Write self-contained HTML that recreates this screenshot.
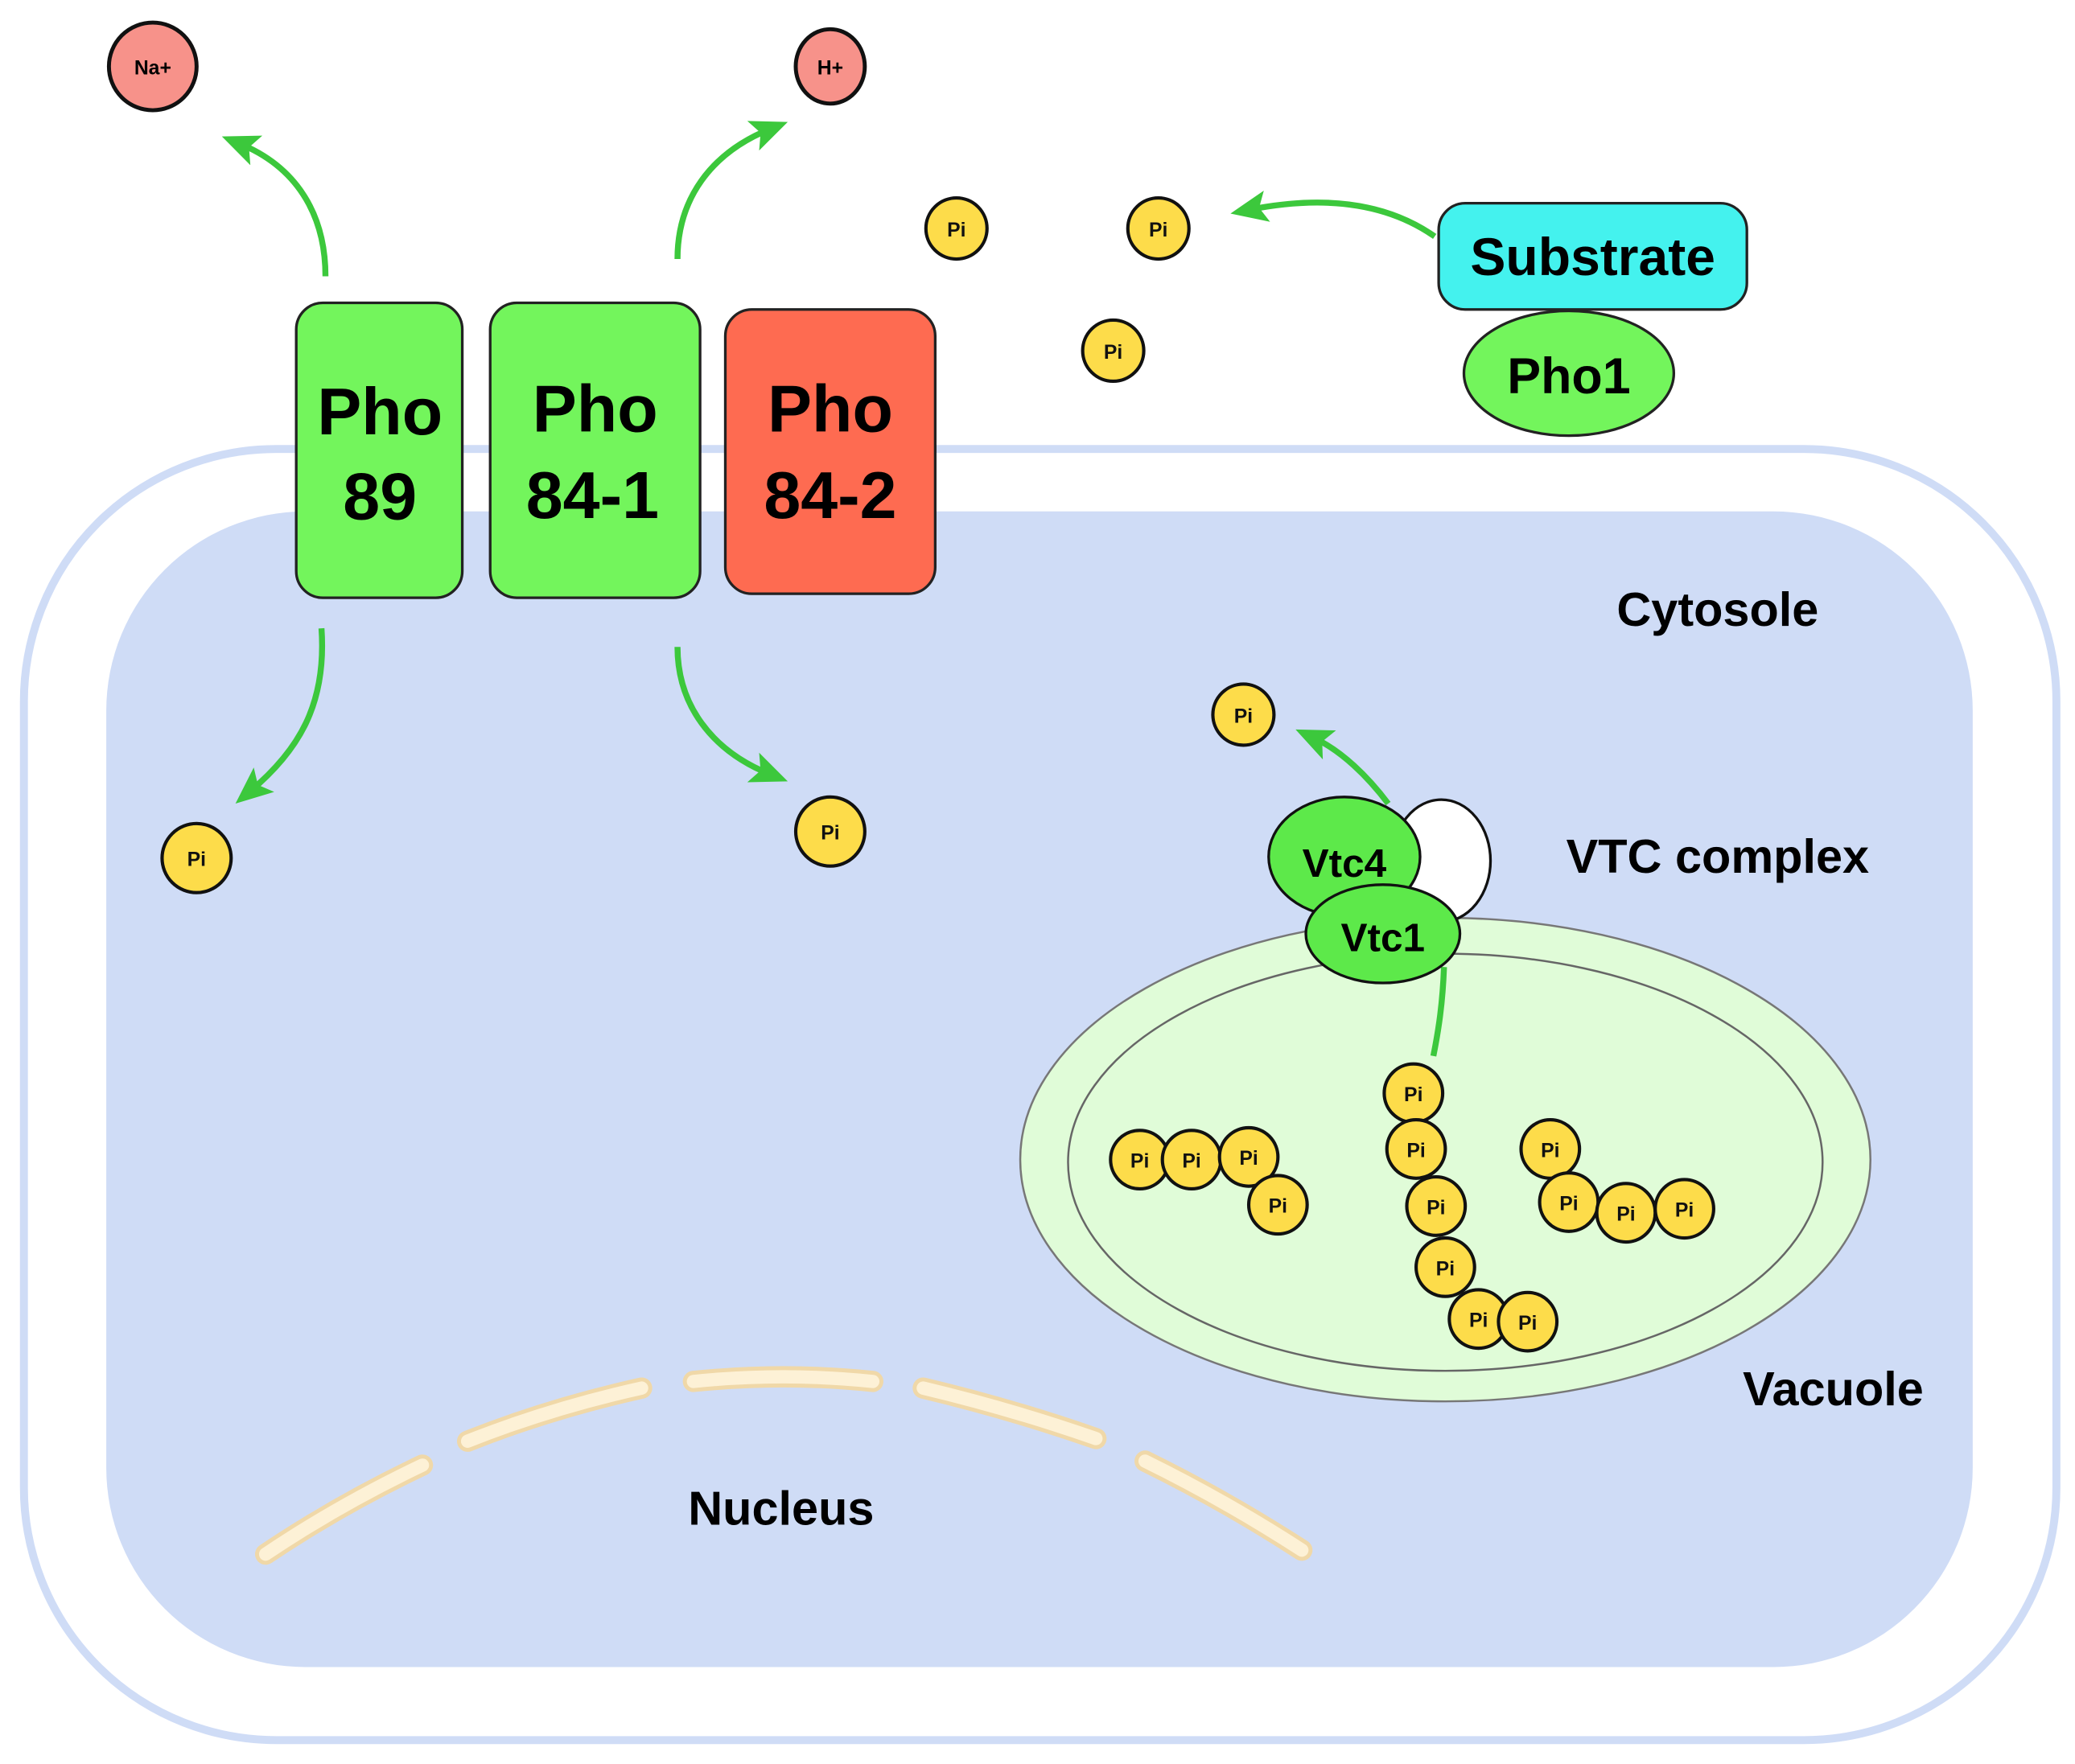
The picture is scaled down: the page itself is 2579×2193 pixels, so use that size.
<!DOCTYPE html>
<html><head><style>html,body{margin:0;padding:0;background:#fff}svg{display:block}text{font-family:"Liberation Sans",sans-serif;font-weight:bold;text-anchor:middle}</style></head>
<body>
<svg width="2579" height="2193" viewBox="0 0 1562 1328" preserveAspectRatio="none" xmlns="http://www.w3.org/2000/svg">
<defs>
<marker id="ah" markerWidth="8" markerHeight="8" refX="5" refY="4" orient="auto" markerUnits="userSpaceOnUse" viewBox="0 0 8 8"><path d="M0,0 L8,4 L0,8 L2,4 Z" fill="#3cc83c"/></marker>
<marker id="a" markerWidth="28" markerHeight="28" refX="14" refY="14" orient="auto" markerUnits="userSpaceOnUse"><path d="M0,2 L28,14 L0,26 L6,14 Z" fill="#3cc83c"/></marker>
</defs>
<rect x="18" y="338" width="1530" height="972" rx="190" fill="#fff" stroke="#cfdcf6" stroke-width="6"/>
<rect x="80" y="385" width="1405" height="870" rx="150" fill="#cfdcf6"/>
<!-- arrows -->
<g fill="none" stroke="#3cc83c" stroke-width="4.5">
<path d="M245,208 C245,160 222,125 180,108" marker-end="url(#a)"/>
<path d="M510,195 C510,150 535,115 580,97" marker-end="url(#a)"/>
<path d="M1080,178 C1040,150 990,148 940,158" marker-end="url(#a)"/>
<path d="M242,473 C246,530 225,565 188,596" marker-end="url(#a)"/>
<path d="M510,487 C510,530 535,565 580,583" marker-end="url(#a)"/>
<path d="M1045,605 C1030,585 1010,565 988,555" marker-end="url(#a)"/>
</g>
<circle cx="115" cy="50" r="33" fill="#f7928a" stroke="#111" stroke-width="3"/>
<text x="115" y="56" font-size="15">Na+</text>
<ellipse cx="625" cy="50" rx="26" ry="28" fill="#f7928a" stroke="#111" stroke-width="3"/>
<text x="625" y="56" font-size="15">H+</text>
<!-- transporters -->
<rect x="223" y="228" width="125" height="222" rx="20" fill="#73f55c" stroke="#222" stroke-width="2"/>
<rect x="369" y="228" width="158" height="222" rx="20" fill="#73f55c" stroke="#222" stroke-width="2"/>
<rect x="546" y="233" width="158" height="214" rx="20" fill="#fe6b51" stroke="#222" stroke-width="2"/>
<g font-size="50">
<text x="286" y="327">Pho</text><text x="286" y="391">89</text>
<text x="448" y="325">Pho</text><text x="446" y="390">84-1</text>
<text x="625" y="325">Pho</text><text x="625" y="390">84-2</text>
</g>
<!-- substrate -->
<rect x="1083" y="153" width="232" height="80" rx="20" fill="#44f2ee" stroke="#222" stroke-width="2"/>
<text x="1199" y="207" font-size="40">Substrate</text>
<ellipse cx="1181" cy="281" rx="79" ry="47" fill="#73f55c" stroke="#222" stroke-width="2"/>
<text x="1181" y="296" font-size="38">Pho1</text>
<!-- labels -->
<text x="1293" y="471" font-size="36">Cytosole</text>
<text x="1293" y="657" font-size="36">VTC complex</text>
<text x="1380" y="1058" font-size="36">Vacuole</text>
<text x="588" y="1148" font-size="36">Nucleus</text>
<!-- vacuole -->
<ellipse cx="1088" cy="873" rx="320" ry="182" fill="#e0fcd8" stroke="#777" stroke-width="1.5"/>
<ellipse cx="1088" cy="875" rx="284" ry="157" fill="none" stroke="#666" stroke-width="1.5"/>
<path d="M1087,728 C1086,755 1083,775 1079,795" fill="none" stroke="#3cc83c" stroke-width="4.5"/>
<ellipse cx="1085" cy="648" rx="37" ry="46" fill="#fff" stroke="#111" stroke-width="2"/>
<ellipse cx="1012" cy="645" rx="57" ry="45" fill="#5de94a" stroke="#111" stroke-width="2"/>
<text x="1012" y="660" font-size="30">Vtc4</text>
<ellipse cx="1041" cy="703" rx="58" ry="37" fill="#5de94a" stroke="#111" stroke-width="2"/>
<text x="1041" y="716" font-size="30">Vtc1</text>
<!-- nucleus arcs -->
<g fill="none" stroke-linecap="round">
<g stroke="#f0d8a8" stroke-width="16">
<path d="M200,1170 Q255,1133 318,1103"/><path d="M352,1085 Q415,1060 483,1045"/><path d="M522,1040 Q590,1033 657,1040"/><path d="M695,1045 Q762,1061 825,1083"/><path d="M862,1100 Q923,1130 980,1167"/>
</g>
<g stroke="#fdf1d6" stroke-width="10">
<path d="M200,1170 Q255,1133 318,1103"/><path d="M352,1085 Q415,1060 483,1045"/><path d="M522,1040 Q590,1033 657,1040"/><path d="M695,1045 Q762,1061 825,1083"/><path d="M862,1100 Q923,1130 980,1167"/>
</g>
</g>
<!-- Pi -->
<g id="pis" font-size="15">
<g fill="#fddc4a" stroke="#111" stroke-width="2.5">
<circle cx="720" cy="172" r="23"/><circle cx="872" cy="172" r="23"/><circle cx="838" cy="264" r="23"/>
<circle cx="148" cy="646" r="26"/><circle cx="625" cy="626" r="26"/><circle cx="936" cy="538" r="23"/>
<circle cx="858" cy="873" r="22"/><circle cx="897" cy="873" r="22"/><circle cx="940" cy="871" r="22"/><circle cx="962" cy="907" r="22"/>
<circle cx="1064" cy="823" r="22"/><circle cx="1066" cy="865" r="22"/><circle cx="1081" cy="908" r="22"/><circle cx="1088" cy="954" r="22"/><circle cx="1113" cy="993" r="22"/><circle cx="1150" cy="995" r="22"/>
<circle cx="1167" cy="865" r="22"/><circle cx="1181" cy="905" r="22"/><circle cx="1224" cy="913" r="22"/><circle cx="1268" cy="910" r="22"/>
</g>
<g fill="#111">
<text x="720" y="178">Pi</text><text x="872" y="178">Pi</text><text x="838" y="270">Pi</text>
<text x="148" y="652">Pi</text><text x="625" y="632">Pi</text><text x="936" y="544">Pi</text>
<text x="858" y="879">Pi</text><text x="897" y="879">Pi</text><text x="940" y="877">Pi</text><text x="962" y="913">Pi</text>
<text x="1064" y="829">Pi</text><text x="1066" y="871">Pi</text><text x="1081" y="914">Pi</text><text x="1088" y="960">Pi</text><text x="1113" y="999">Pi</text><text x="1150" y="1001">Pi</text>
<text x="1167" y="871">Pi</text><text x="1181" y="911">Pi</text><text x="1224" y="919">Pi</text><text x="1268" y="916">Pi</text>
</g>
</g>
</svg>
</body></html>
